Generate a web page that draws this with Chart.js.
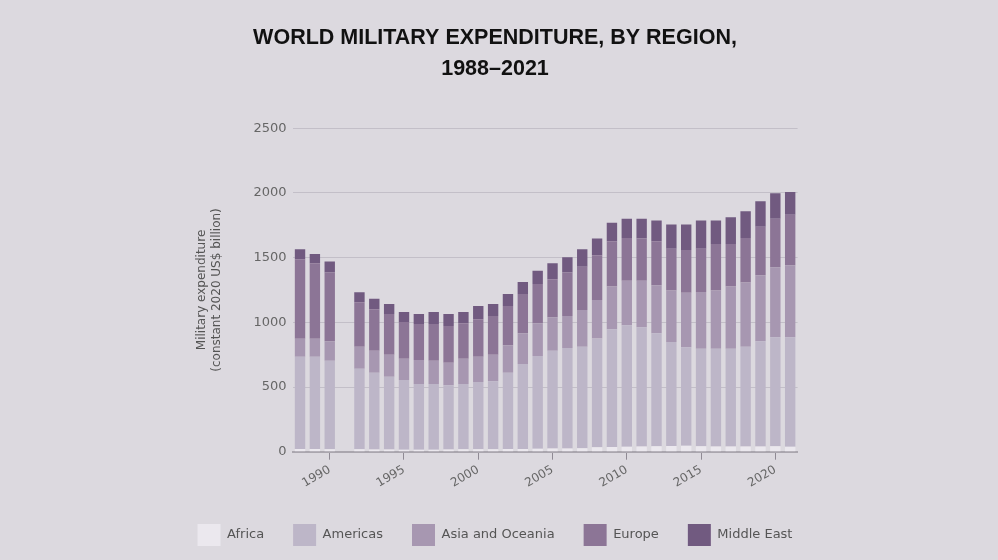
<!DOCTYPE html>
<html>
<head>
<meta charset="utf-8">
<script src="https://cdn.jsdelivr.net/npm/chart.js@4.4.0/dist/chart.umd.min.js"></script>
<style>
  html, body { margin: 0; padding: 0; background: #dcd9df; }
  #wrap { width: 998px; height: 560px; position: relative; }
</style>
</head>
<body>
<div id="wrap"><canvas id="c" width="998" height="560"></canvas></div>
<script>
const years = ['1988','1989','1990','1991','1992','1993','1994','1995','1996','1997','1998','1999','2000','2001','2002','2003','2004','2005','2006','2007','2008','2009','2010','2011','2012','2013','2014','2015','2016','2017','2018','2019','2020','2021'];
const africa   = [20,20,19,null,18,17,17,16,16,16,17,18,19,19,20,21,22,24,25,27,34,37,38,41,42,45,46,43,41,40,40,41,43,39];
const americas = [714,714,684,null,624,594,563,538,507,507,496,505,520,525,591,657,718,757,777,785,840,909,939,920,873,803,761,753,755,756,772,812,841,845];
const asiaOceania = [139,139,150,null,170,170,170,165,186,180,175,196,195,206,211,237,252,258,247,283,299,330,345,361,371,397,422,439,449,480,495,511,542,557];
const europe   = [614,583,531,null,343,320,314,284,278,284,283,273,289,299,304,304,304,294,335,335,345,351,330,325,341,324,330,334,361,330,345,375,375,391];
const middleEast = [78,72,85,null,77,82,78,77,77,93,93,88,103,93,93,93,103,123,119,135,129,143,149,154,159,186,196,217,180,206,206,197,197,176];
const yTicks = [0,500,1000,1500,2000,2500];

const seriesNames = ['Africa','Americas','Asia and Oceania','Europe','Middle East'];
const seriesData = [africa, americas, asiaOceania, europe, middleEast];
const seriesColors = ['#ebe8ee','#bdb6c8','#a797b1','#8c7596','#715a80'];

const datasets = seriesNames.map((n, i) => ({
  label: n,
  data: seriesData[i],
  backgroundColor: seriesColors[i],
  borderWidth: 0,
  barPercentage: 0.7,
  categoryPercentage: 1.0,
  yAxisID: 'y'
}));

new Chart(document.getElementById('c'), {
  type: 'bar',
  data: { labels: years, datasets },
  options: {
    responsive: false,
    animation: false,
    layout: { padding: { left: 161, right: 169, top: 0, bottom: 4 } },
    plugins: {
      title: {
        display: true,
        text: ['WORLD MILITARY EXPENDITURE, BY REGION,', '1988\u20132021'],
        color: '#111',
        font: { family: 'Liberation Sans', size: 21.5, weight: 'bold', lineHeight: 1.44 },
        padding: { top: 22.5, bottom: 43.8 }
      },
      legend: {
        position: 'bottom',
        labels: {
          boxWidth: 23,
          boxHeight: 22,
          padding: 29,
          color: '#555',
          font: { family: 'DejaVu Sans', size: 13 }
        }
      },
      tooltip: { enabled: false }
    },
    scales: {
      x: {
        stacked: true,
        offset: true,
        afterFit: s => { s.height = 43.3; },
        grid: { display: true, offset: false, drawOnChartArea: false, drawTicks: true, tickLength: 8, color: '#8f8a94' },
        border: { display: true, color: '#aaa6ae', width: 2 },
        ticks: {
          autoSkip: false,
          maxRotation: 30,
          minRotation: 30,
          padding: 3,
          color: '#666',
          font: { family: 'DejaVu Sans', size: 12 },
          callback: function(v, i) { const y = +years[i]; return y % 5 === 0 ? years[i] : null; }
        }
      },
      y: {
        stacked: true,
        min: 0,
        max: 2500,
        afterBuildTicks: s => { s.ticks = yTicks.map(v => ({ value: v })); },
        afterFit: s => { s.width = 131.6; },
        grid: { color: '#c3bfc8', drawTicks: false },
        border: { display: false },
        ticks: { padding: 6, color: '#666', font: { family: 'DejaVu Sans', size: 13 }, callback: v => String(v) },
        title: {
          display: true,
          text: ['Military expenditure', '(constant 2020 US$ billion)'],
          color: '#555',
          font: { family: 'DejaVu Sans', size: 12, lineHeight: 1.25 },
          padding: { top: 33.2, bottom: 0 }
        }
      },
      yR: {
        type: 'linear',
        position: 'right',
        display: true,
        afterFit: s => { s.width = 31.4; },
        grid: { display: false },
        border: { display: false },
        ticks: { display: false }
      }
    }
  }
});
</script>
</body>
</html>
